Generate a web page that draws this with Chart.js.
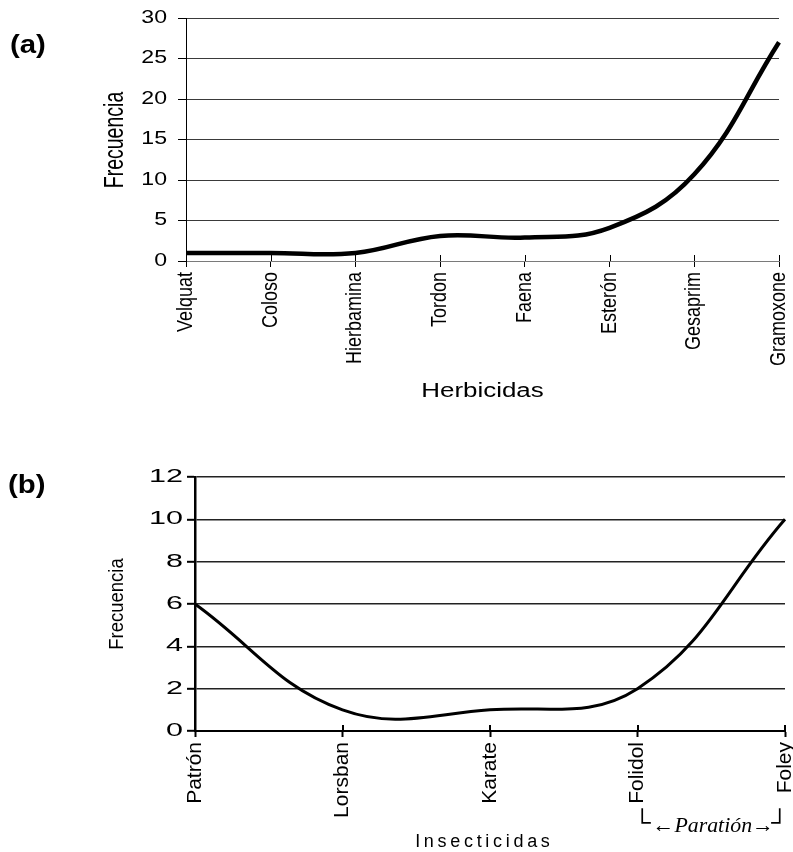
<!DOCTYPE html>
<html><head><meta charset="utf-8">
<script src="https://cdn.jsdelivr.net/npm/chart.js@4.4.1/dist/chart.umd.min.js"></script>
<style>
html,body{margin:0;padding:0;background:#fff;}
#wrap{position:relative;width:793px;height:852px;overflow:hidden;background:#fff;}
canvas{position:absolute;left:0;}
#ca{top:0;} #cb{top:440px;}
</style></head><body>
<div id="wrap"><canvas id="ca" width="793" height="440"></canvas><canvas id="cb" width="793" height="412"></canvas></div>
<script>
// ---- data ----
const herbicideLabels = ['Velquat','Coloso','Hierbamina','Tordon','Faena','Esterón','Gesaprim','Gramoxone'];
const herbicideFreq = [1, 1, 1, 3.1, 2.9, 4.1, 10.7, 27];
const herbicideYMax = 30, herbicideYStep = 5;

const insecticideLabels = ['Patrón','Lorsban','Karate','Folidol','Foley'];
const insecticideFreq = [6, 1, 1, 2, 10];
const insecticideYMax = 12, insecticideYStep = 2;

const panelA = '(a)', panelB = '(b)';
const yTitle = 'Frecuencia';
const xTitleA = 'Herbicidas', xTitleB = 'Insecticidas';
const bracketLeft = '└', bracketRight = '┘', bracketMid = '←Paratión→';

const SANS = '"Liberation Sans", Arial, sans-serif';
const SERIF = '"Liberation Serif", "Times New Roman", serif';

function drawText(ctx, t) {
  ctx.save();
  ctx.fillStyle = '#000';
  ctx.font = t.font;
  ctx.textBaseline = t.baseline || 'alphabetic';
  ctx.translate(t.x, t.y);
  if (t.rotate) ctx.rotate(-Math.PI / 2);
  ctx.scale(t.sx || 1, t.sy || 1);
  if (t.spacing) {
    ctx.letterSpacing = t.spacing + 'px';
    const w = ctx.measureText(t.text).width - t.spacing;
    ctx.textAlign = 'left';
    ctx.fillText(t.text, t.align === 'left' ? 0 : -w / 2, 0);
  } else {
    ctx.textAlign = t.align || 'center';
    ctx.fillText(t.text, 0, 0);
  }
  ctx.restore();
}

// tick labels drawn from the library's own scales (stretched like the original print)
const tickLabelPlugin = {
  id: 'tickLabels',
  afterDraw(chart, args, o) {
    const ctx = chart.ctx, xs = chart.scales.x, ys = chart.scales.y, a = chart.chartArea;
    ys.ticks.forEach((t, i) => {
      drawText(ctx, {text: String(t.label), x: a.left - o.yGap, y: ys.getPixelForTick(i),
        font: o.yFont, align: 'right', baseline: 'middle', sx: o.ySx});
    });
    xs.ticks.forEach((t, i) => {
      drawText(ctx, {text: String(xs.getLabelForValue(t.value)), x: xs.getPixelForTick(i), y: a.bottom + o.xGap,
        font: o.xFont, align: 'right', baseline: 'middle', rotate: true, sy: o.xSy});
    });
  }
};

const textPlugin = {
  id: 'textPlugin',
  afterDraw(chart, args, opts) {
    const ctx = chart.ctx;
    (opts.items || []).forEach(t => drawText(ctx, t));
    if (opts.bracket) {
      const xs = chart.scales.x;
      const x0 = xs.getPixelForTick(3), x1 = xs.getPixelForTick(4);
      const y = opts.bracket.y;
      drawText(ctx, {text: bracketLeft, x: x0 - 4, y: y - 2, font: '24px ' + SANS, align: 'left'});
      drawText(ctx, {text: bracketRight, x: x1 + 3, y: y - 2, font: '24px ' + SANS, align: 'right'});
      drawText(ctx, {text: bracketMid, x: (x0 + x1) / 2 + 2, y: y, font: 'italic 21px ' + SERIF, sx: 1.04});
    }
  }
};

const crossTicks = {
  id: 'crossTicks',
  afterDatasetsDraw(chart, args, opts) {
    const xs = chart.scales.x, ctx = chart.ctx, b = chart.chartArea.bottom;
    ctx.save();
    ctx.strokeStyle = '#000';
    ctx.lineWidth = opts.width;
    xs.ticks.forEach((t, i) => {
      const px = Math.round(xs.getPixelForTick(i)) + (opts.width % 2 === 1 ? 0.5 : 0);
      ctx.beginPath(); ctx.moveTo(px, b - opts.len); ctx.lineTo(px, b); ctx.stroke();
    });
    ctx.restore();
  }
};

function makeChart(id, labels, values, c) {
  return new Chart(document.getElementById(id), {
    type: 'line',
    data: {
      labels: labels,
      datasets: [{
        data: values,
        borderColor: '#000',
        borderWidth: c.lineWidth,
        pointRadius: 0,
        tension: 0.4,
        fill: false,
        clip: false
      }]
    },
    options: {
      responsive: false,
      animation: false,
      devicePixelRatio: 1,
      layout: {padding: {left: 0, top: c.padTop, right: c.padRight, bottom: 0}},
      plugins: {
        legend: {display: false},
        tooltip: {enabled: false},
        textPlugin: {items: c.texts, bracket: c.bracket},
        crossTicks: {len: 6, width: c.tickWidth},
        tickLabels: c.tickLabels
      },
      scales: {
        x: {
          type: 'category',
          offset: false,
          grid: {display: true, drawOnChartArea: false, drawTicks: true, tickLength: 6, tickColor: '#000', tickWidth: c.tickWidth},
          border: {display: true, color: c.xBorderColor, width: c.xBorderWidth},
          ticks: {display: false, autoSkip: false},
          afterFit(s) { s.height = c.xHeight; s.paddingLeft = 0; s.paddingRight = 0; }
        },
        y: {
          min: 0, max: c.yMax,
          grid: {color: c.gridColor, lineWidth: c.gridWidth, drawTicks: true, tickLength: 8, tickColor: '#000', tickWidth: c.tickWidth},
          border: {display: true, color: '#000', width: c.yBorderWidth},
          ticks: {display: false, stepSize: c.yStep},
          afterFit(s) { s.width = c.yWidth; s.paddingTop = 0; s.paddingBottom = 0; }
        }
      }
    },
    plugins: [textPlugin, crossTicks, tickLabelPlugin]
  });
}

makeChart('ca', herbicideLabels, herbicideFreq, {
  yMax: herbicideYMax, yStep: herbicideYStep,
  yWidth: 186, xHeight: 179, padTop: 18, padRight: 14,
  lineWidth: 4.5, gridColor: '#3a3a3a', gridWidth: 1,
  yBorderWidth: 1, xBorderColor: '#7a7a7a', xBorderWidth: 1, tickWidth: 1,
  tickLabels: {yGap: 19, yFont: '17.5px ' + SANS, ySx: 1.32, xGap: 11, xFont: '18px ' + SANS, xSy: 1.22},
  texts: [
    {text: panelA, x: 10, y: 53, font: 'bold 26px ' + SANS, align: 'left', sx: 1.13},
    {text: yTitle, x: 123, y: 140, font: '19.5px ' + SANS, rotate: true, sy: 1.45},
    {text: xTitleA, x: 482.5, y: 396.5, font: '19.5px ' + SANS, sx: 1.33}
  ]
});

makeChart('cb', insecticideLabels, insecticideFreq, {
  yMax: insecticideYMax, yStep: insecticideYStep,
  yWidth: 195, xHeight: 121, padTop: 37, padRight: 8,
  lineWidth: 3, gridColor: '#222', gridWidth: 1.6,
  yBorderWidth: 2.5, xBorderColor: '#000', xBorderWidth: 2, tickWidth: 2,
  tickLabels: {yGap: 12, yFont: '18.5px ' + SANS, ySx: 1.65, xGap: 11, xFont: '21px ' + SANS, xSy: 1.0},
  texts: [
    {text: panelB, x: 8, y: 53, font: 'bold 26px ' + SANS, align: 'left', sx: 1.13},
    {text: yTitle, x: 123, y: 164, font: '18.5px ' + SANS, rotate: true, sy: 1.13},
    {text: xTitleB, x: 482.5, y: 407, font: '18px ' + SANS, spacing: 3.7}
  ],
  bracket: {y: 392}
});
</script>
</body></html>
